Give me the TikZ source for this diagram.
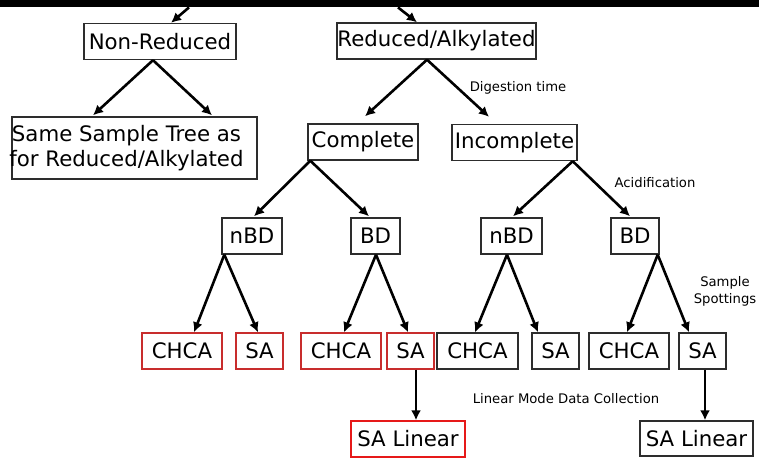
\documentclass[tikz,border=0pt]{standalone}
\usepackage{fontspec}
\setmainfont{DejaVu Sans}
\usetikzlibrary{arrows.meta}

\definecolor{boxline}{RGB}{45,45,45}
\definecolor{redline}{RGB}{200,45,45}
\definecolor{brightred}{RGB}{230,25,25}

\tikzset{
  stagebox/.style={draw=boxline, line width=1.4pt, fill=white, inner sep=0pt,
    minimum height=36pt, font=\fontsize{21.3}{25}\selectfont},
  redbox/.style={stagebox, draw=redline},
  brightbox/.style={stagebox, draw=brightred},
  note/.style={inner sep=0pt, align=center, font=\fontsize{13.2}{17}\selectfont},
  flow/.style={line width=2.6pt, -{Latex[length=10pt,width=10pt]}},
}

\begin{document}
\begin{tikzpicture}[x=1pt, y=-1pt]
  \useasboundingbox (0,0) rectangle (759,458);

  % strip along the top edge
  \node[fill=black, inner sep=0pt, minimum width=759pt, minimum height=7pt, anchor=north west] (bar) at (0,0) {};

  % first split
  \node[stagebox, minimum width=152pt] (nonred) at (160,41.5) {Non-Reduced};
  \node[stagebox, minimum width=199pt] (redalk) at (436.5,41) {Reduced/Alkylated};

  \node[stagebox, minimum width=245pt, minimum height=62pt] (same) at (134.5,148) {};
  \node[inner sep=0pt, align=center, font=\fontsize{21.3}{25}\selectfont] (sametext) at (126.5,148)
    {Same Sample Tree as\\for Reduced/Alkylated};

  % digestion
  \node[stagebox, minimum width=110pt] (complete) at (363,142) {Complete};
  \node[stagebox, minimum width=125pt] (incomplete) at (514.5,142.5) {Incomplete};

  % nBD / BD
  \node[stagebox, minimum width=60pt] (nbdA) at (252,236) {nBD};
  \node[stagebox, minimum width=49pt] (bdA) at (375.5,236) {BD};
  \node[stagebox, minimum width=61pt] (nbdB) at (511.5,236) {nBD};
  \node[stagebox, minimum width=48pt] (bdB) at (635,236) {BD};

  % matrices
  \node[redbox, minimum width=80pt] (chcaA) at (182,351) {CHCA};
  \node[redbox, minimum width=47pt] (saA) at (259.5,351) {SA};
  \node[redbox, minimum width=80pt] (chcaB) at (341,351) {CHCA};
  \node[redbox, minimum width=47pt] (saB) at (410.5,351) {SA};
  \node[stagebox, minimum width=81pt] (chcaC) at (477.5,351) {CHCA};
  \node[stagebox, minimum width=47pt] (saC) at (555.5,351) {SA};
  \node[stagebox, minimum width=80pt] (chcaD) at (629,351) {CHCA};
  \node[stagebox, minimum width=47pt] (saD) at (702.5,351) {SA};

  % linear mode
  \node[brightbox, minimum width=114pt] (linA) at (408,439) {SA Linear};
  \node[stagebox, minimum width=113pt, minimum height=35pt] (linB) at (696.5,438.5) {SA Linear};

  % step labels
  \node[note] (digest) at (518,88) {Digestion time};
  \node[note] (acid) at (655,182.5) {Acidification};
  \node[note] (spot) at (725,291.5) {Sample\\Spottings};
  \node[note] (linmode) at (566,399) {Linear Mode Data Collection};

  % connectors
  \draw[flow] ([xshift=189pt]bar.south west) -- ([xshift=11pt]nonred.north);
  \draw[flow] ([xshift=398pt]bar.south west) -- ([xshift=-19.5pt]redalk.north);

  \draw[flow] ([xshift=-7pt]nonred.south) -- ([xshift=-41.5pt,yshift=1pt]same.north);
  \draw[flow] ([xshift=-7pt]nonred.south) -- ([xshift=77.5pt,yshift=1pt]same.north);

  \draw[flow] ([xshift=-9.5pt]redalk.south) -- ([xshift=2pt,yshift=7pt]complete.north);
  \draw[flow] ([xshift=-9.5pt]redalk.south) -- ([xshift=-25.5pt,yshift=7pt]incomplete.north);

  \draw[flow] ([xshift=3pt]complete.south west) -- ([xshift=2pt,yshift=1pt]nbdA.north);
  \draw[flow] ([xshift=3pt]complete.south west) -- ([xshift=-6.5pt,yshift=1pt]bdA.north);
  \draw[flow] ([xshift=-5pt]incomplete.south east) -- ([xshift=1.5pt,yshift=1pt]nbdB.north);
  \draw[flow] ([xshift=-5pt]incomplete.south east) -- ([xshift=-5pt,yshift=1pt]bdB.north);

  \draw[flow] ([xshift=3pt]nbdA.south west) -- ([xshift=12pt]chcaA.north);
  \draw[flow] ([xshift=3pt]nbdA.south west) -- ([xshift=-1.5pt]saA.north);
  \draw[flow] ([xshift=0.5pt]bdA.south) -- ([xshift=3pt]chcaB.north);
  \draw[flow] ([xshift=0.5pt]bdA.south) -- ([xshift=-2.5pt]saB.north);
  \draw[flow] ([xshift=-4.5pt]nbdB.south) -- ([xshift=-2.5pt]chcaC.north);
  \draw[flow] ([xshift=-4.5pt]nbdB.south) -- ([xshift=-17.5pt]saC.north);
  \draw[flow] ([xshift=-2pt]bdB.south east) -- ([xshift=-2pt]chcaD.north);
  \draw[flow] ([xshift=-2pt]bdB.south east) -- ([xshift=-13.5pt]saD.north);

  \draw[flow] ([xshift=5.5pt]saB.south) -- ([xshift=8pt]linA.north);
  \draw[flow] ([xshift=2.5pt]saD.south) -- ([xshift=8.5pt]linB.north);
\end{tikzpicture}
\end{document}
